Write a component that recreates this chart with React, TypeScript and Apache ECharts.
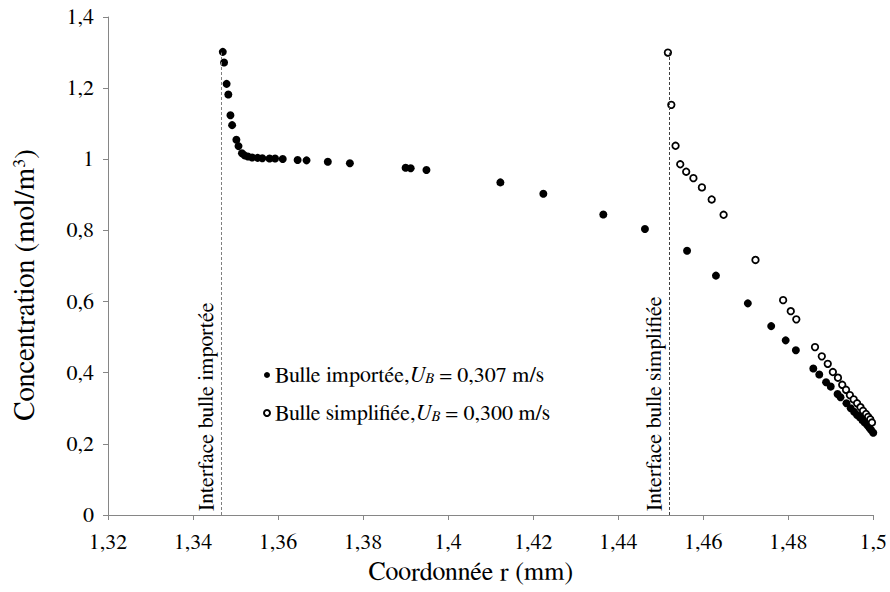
import React, { useEffect, useRef } from "react";
import * as echarts from "echarts";

const importX = [1.3470, 1.3473, 1.3479, 1.3483, 1.3488, 1.3492, 1.3502, 1.3507, 1.3515, 1.3521, 1.3529, 1.3539, 1.3552, 1.3563, 1.3580, 1.3593, 1.3611, 1.3646, 1.3667, 1.3717, 1.3769, 1.3900, 1.3912, 1.3949, 1.4123, 1.4224, 1.4365, 1.4463, 1.4562, 1.4630, 1.4705, 1.4760, 1.4794, 1.4818, 1.4859, 1.4873, 1.4889, 1.4900, 1.4916, 1.4923, 1.4937, 1.4947, 1.4955, 1.4962, 1.4969, 1.4975, 1.4980, 1.4986, 1.4991, 1.4995, 1.5000];
const importY = [1.302, 1.272, 1.212, 1.182, 1.124, 1.096, 1.055, 1.037, 1.017, 1.011, 1.008, 1.005, 1.004, 1.003, 1.002, 1.002, 1.001, 0.998, 0.997, 0.993, 0.989, 0.976, 0.975, 0.970, 0.935, 0.903, 0.845, 0.804, 0.743, 0.673, 0.595, 0.531, 0.491, 0.463, 0.412, 0.395, 0.373, 0.361, 0.340, 0.331, 0.314, 0.300, 0.290, 0.281, 0.274, 0.266, 0.260, 0.252, 0.245, 0.239, 0.231];

const simpX = [1.4517, 1.4525, 1.4535, 1.4546, 1.4560, 1.4577, 1.4597, 1.4620, 1.4648, 1.4723, 1.4788, 1.4806, 1.4819, 1.4863, 1.4879, 1.4893, 1.4905, 1.4917, 1.4927, 1.4936, 1.4945, 1.4954, 1.4962, 1.4970, 1.4976, 1.4983, 1.4988, 1.4993, 1.4997];
const simpY = [1.300, 1.153, 1.038, 0.986, 0.965, 0.947, 0.921, 0.887, 0.844, 0.717, 0.604, 0.573, 0.550, 0.472, 0.446, 0.425, 0.402, 0.386, 0.366, 0.352, 0.337, 0.325, 0.314, 0.303, 0.293, 0.284, 0.276, 0.269, 0.260];

const interfaceX = [1.3466, 1.4519];
const interfaceTop = 1.3;
const interfaceLabels = ["Interface bulle importée", "Interface bulle simplifiée"];
const interfaceColors = ["#808080", "#404040"];

const seriesNames = ["Bulle importée", "Bulle simplifiée"];
const seriesSpeeds = ["0,307", "0,300"];

const FONT = "FreeSerif";

const fmt = (v: number) => String(Number(v.toFixed(2))).replace(".", ",");

export default function App() {
  const ref = useRef<HTMLDivElement>(null);
  useEffect(() => {
    if (!ref.current) return;
    const chart = echarts.init(ref.current, null, { renderer: "svg" });
    const rich = {
      t: { fontFamily: FONT, fontSize: 22, color: "#000" },
      i: { fontFamily: FONT, fontSize: 22, fontStyle: "italic", color: "#000" },
      sub: { fontFamily: FONT, fontSize: 15, fontStyle: "italic", color: "#000", verticalAlign: "bottom", lineHeight: 14, padding: [10, 0, 0, 0] },
    };
    chart.setOption({
      animation: false,
      backgroundColor: "#fff",
      textStyle: { fontFamily: FONT },
      grid: { left: 108, right: 14, top: 17, bottom: 77 },
      legend: {
        orient: "vertical",
        left: 258,
        top: 356,
        itemGap: 13,
        icon: "circle",
        itemWidth: 6,
        itemHeight: 6,
        data: seriesNames,
        formatter: (name: string) => {
          const idx = seriesNames.indexOf(name);
          return `{t|${name},}{i|U}{sub|B}{t| = ${seriesSpeeds[idx]} m/s}`;
        },
        textStyle: { fontFamily: FONT, fontSize: 22, rich },
      },
      xAxis: {
        type: "value",
        min: 1.32,
        max: 1.5,
        interval: 0.02,
        name: "Coordonnée r (mm)",
        nameLocation: "middle",
        nameGap: 44,
        nameTextStyle: { fontFamily: FONT, fontSize: 26, color: "#000", padding: [0, 40, 0, 0] },
        axisLine: { lineStyle: { color: "#868686" } },
        axisTick: { show: true, length: 5, lineStyle: { color: "#868686" } },
        axisLabel: { fontFamily: FONT, fontSize: 22, color: "#000", margin: 16, formatter: fmt },
        splitLine: { show: false },
      },
      yAxis: {
        type: "value",
        min: 0,
        max: 1.4,
        interval: 0.2,
        name: "Concentration (mol/m{sup|3})",
        nameLocation: "middle",
        nameGap: 68,
        nameRotate: 90,
        nameTextStyle: {
          fontFamily: FONT,
          fontSize: 29,
          color: "#000",
          padding: [0, 38, 0, 0],
          rich: { sup: { fontFamily: FONT, fontSize: 18, color: "#000", verticalAlign: "top", lineHeight: 14 } },
        },
        axisLine: { show: true, lineStyle: { color: "#868686" } },
        axisTick: { show: true, length: 5, lineStyle: { color: "#868686" } },
        axisLabel: { fontFamily: FONT, fontSize: 22, color: "#000", margin: 14, formatter: fmt },
        splitLine: { show: false },
      },
      series: [
        {
          name: seriesNames[0],
          type: "scatter",
          symbol: "circle",
          symbolSize: 8,
          itemStyle: { color: "#000", opacity: 1 },
          data: importX.map((x, i) => [x, importY[i]]),
          markLine: {
            silent: true,
            symbol: "none",
            label: {
              show: true,
              position: "insideStartTop",
              distance: 4,
              fontFamily: FONT,
              fontSize: 22,
              color: "#000",
            },
            data: interfaceX.map((x, i) => [
              {
                coord: [x, 0],
                label: { formatter: interfaceLabels[i] },
                lineStyle: { type: [3, 2], color: interfaceColors[i], width: 1, opacity: 1 },
              },
              { coord: [x, interfaceTop] },
            ]),
          },
          z: 3,
        },
        {
          name: seriesNames[1],
          type: "scatter",
          symbol: "circle",
          symbolSize: 6.5,
          itemStyle: { color: "#fff", borderColor: "#000", borderWidth: 1.8, opacity: 1 },
          data: simpX.map((x, i) => [x, simpY[i]]),
          z: 3,
        },
      ],
    });
    return () => chart.dispose();
  }, []);
  return <div ref={ref} style={{ position: "absolute", left: 0, top: 0, width: 890, height: 592 }} />;
}
